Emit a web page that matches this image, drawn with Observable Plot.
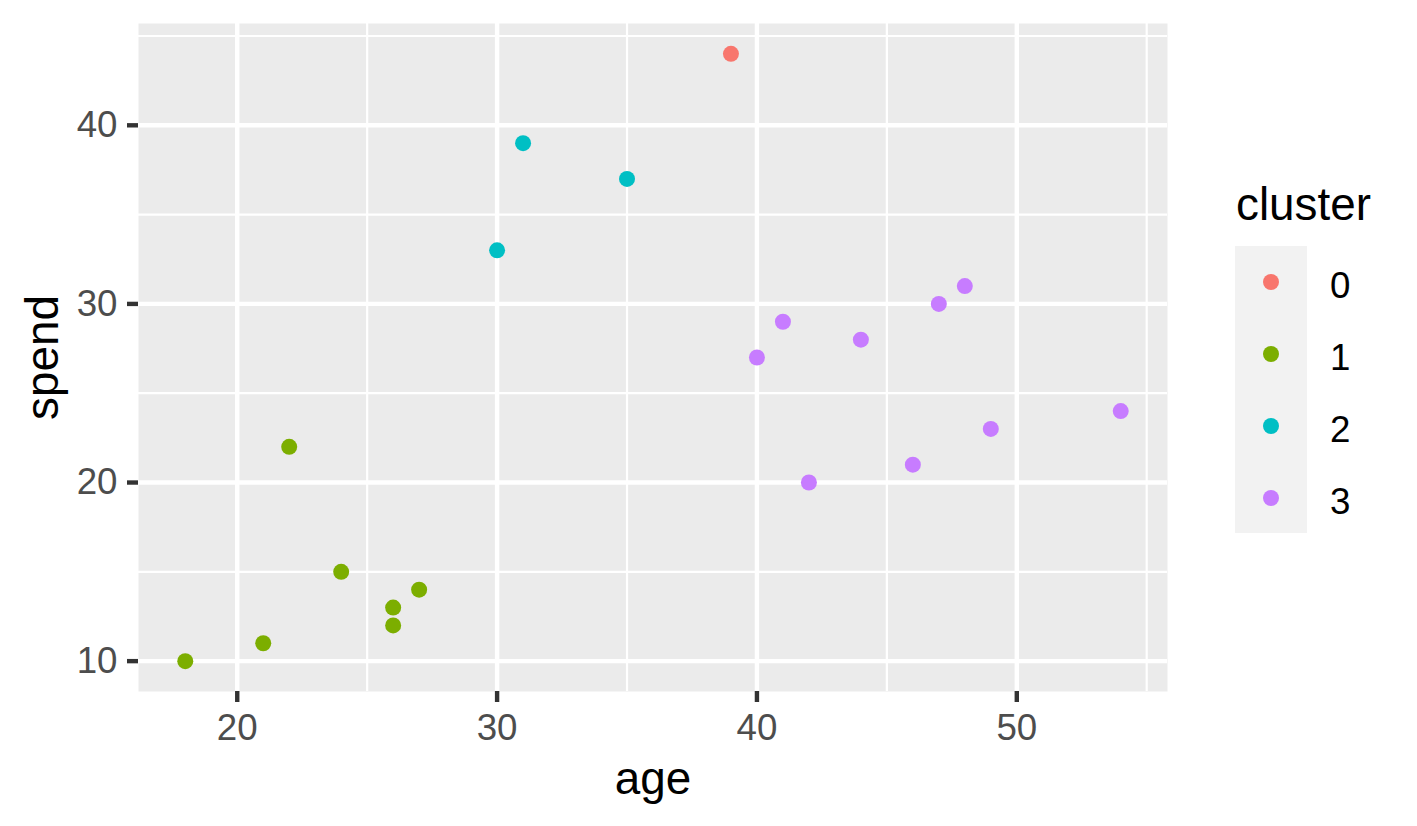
<!DOCTYPE html>
<html>
<head>
<meta charset="utf-8">
<script src="https://cdn.jsdelivr.net/npm/d3@7"></script>
<script src="https://cdn.jsdelivr.net/npm/@observablehq/plot@0.6"></script>
<style>
  html, body { margin: 0; padding: 0; background: #ffffff; }
  #chart svg { display: block; }
</style>
</head>
<body>
<div id="chart"></div>
<script>
// ---- Data ----
const ages     = [39, 18, 21, 22, 24, 26, 26, 27, 30, 31, 35, 40, 41, 42, 44, 46, 47, 48, 49, 54];
const spends   = [44, 10, 11, 22, 15, 13, 12, 14, 33, 39, 37, 27, 29, 20, 28, 21, 30, 31, 23, 24];
const clusters = ["0","1","1","1","1","1","1","1","2","2","2","3","3","3","3","3","3","3","3","3"];
const clusterLevels = ["0", "1", "2", "3"];
const clusterColors = ["#F8766D", "#7CAE00", "#00BFC4", "#C77CFF"];
const xMajor = [20, 30, 40, 50];
const xMinor = [25, 35, 45, 55];
const yMajor = [10, 20, 30, 40];
const yMinor = [15, 25, 35, 45];

const points = ages.map((a, i) => ({age: a, spend: spends[i], cluster: clusters[i]}));

const FONT = "'Liberation Sans', Arial, Helvetica, sans-serif";

const plot = Plot.plot({
  width: 1417,
  height: 826,
  marginLeft: 138,
  marginRight: 250,
  marginTop: 23,
  marginBottom: 135,
  style: {fontFamily: FONT, background: "#ffffff", overflow: "visible"},
  x: {domain: [16.2, 55.8]},
  y: {domain: [8.3, 45.7]},
  color: {domain: clusterLevels, range: clusterColors},
  marks: [
    Plot.frame({fill: "#EBEBEB", stroke: null}),
    Plot.gridX(xMinor, {stroke: "#ffffff", strokeOpacity: 1, strokeWidth: 2.2}),
    Plot.gridY(yMinor, {stroke: "#ffffff", strokeOpacity: 1, strokeWidth: 2.2}),
    Plot.gridX(xMajor, {stroke: "#ffffff", strokeOpacity: 1, strokeWidth: 4.4}),
    Plot.gridY(yMajor, {stroke: "#ffffff", strokeOpacity: 1, strokeWidth: 4.4}),
    Plot.axisX(xMajor, {
      label: null, tickSize: 11, tickPadding: 11, fontSize: 36.7,
      stroke: "#333333", strokeWidth: 4.4, fill: "#4D4D4D"
    }),
    Plot.axisY(yMajor, {
      label: null, tickSize: 11, tickPadding: 10, fontSize: 36.7,
      stroke: "#333333", strokeWidth: 4.4, fill: "#4D4D4D"
    }),
    Plot.dot(points, {x: "age", y: "spend", fill: "cluster", r: 8, stroke: null}),
    Plot.text(["age"], {
      frameAnchor: "bottom", dy: 102, lineAnchor: "bottom", textAnchor: "middle",
      fontSize: 45.8, fill: "#000000", text: d => d
    }),
    Plot.text(["spend"], {
      frameAnchor: "left", dx: -81, rotate: -90, lineAnchor: "bottom", textAnchor: "middle",
      fontSize: 45.8, fill: "#000000", text: d => d
    })
  ]
});

// ---- Legend (drawn into the same SVG, colours from the plot's colour scale) ----
const color = plot.scale("color");
const svg = d3.select(plot);
const lg = svg.append("g").attr("font-family", FONT).attr("text-anchor", "start");
lg.append("text")
  .attr("x", 1236).attr("y", 220)
  .attr("text-anchor", "start")
  .attr("font-size", 45.8).attr("fill", "#000000")
  .text("cluster");
lg.append("rect")
  .attr("x", 1235).attr("y", 246).attr("width", 72).attr("height", 287)
  .attr("fill", "#F2F2F2");
clusterLevels.forEach((c, i) => {
  const cy = 282 + i * 72;
  lg.append("circle")
    .attr("cx", 1271).attr("cy", cy).attr("r", 8)
    .attr("fill", color.apply(c));
  lg.append("text")
    .attr("x", 1330).attr("y", cy + 15.5)
    .attr("text-anchor", "start")
    .attr("font-size", 36.7).attr("fill", "#000000")
    .text(c);
});

document.getElementById("chart").appendChild(plot);
</script>
</body>
</html>
